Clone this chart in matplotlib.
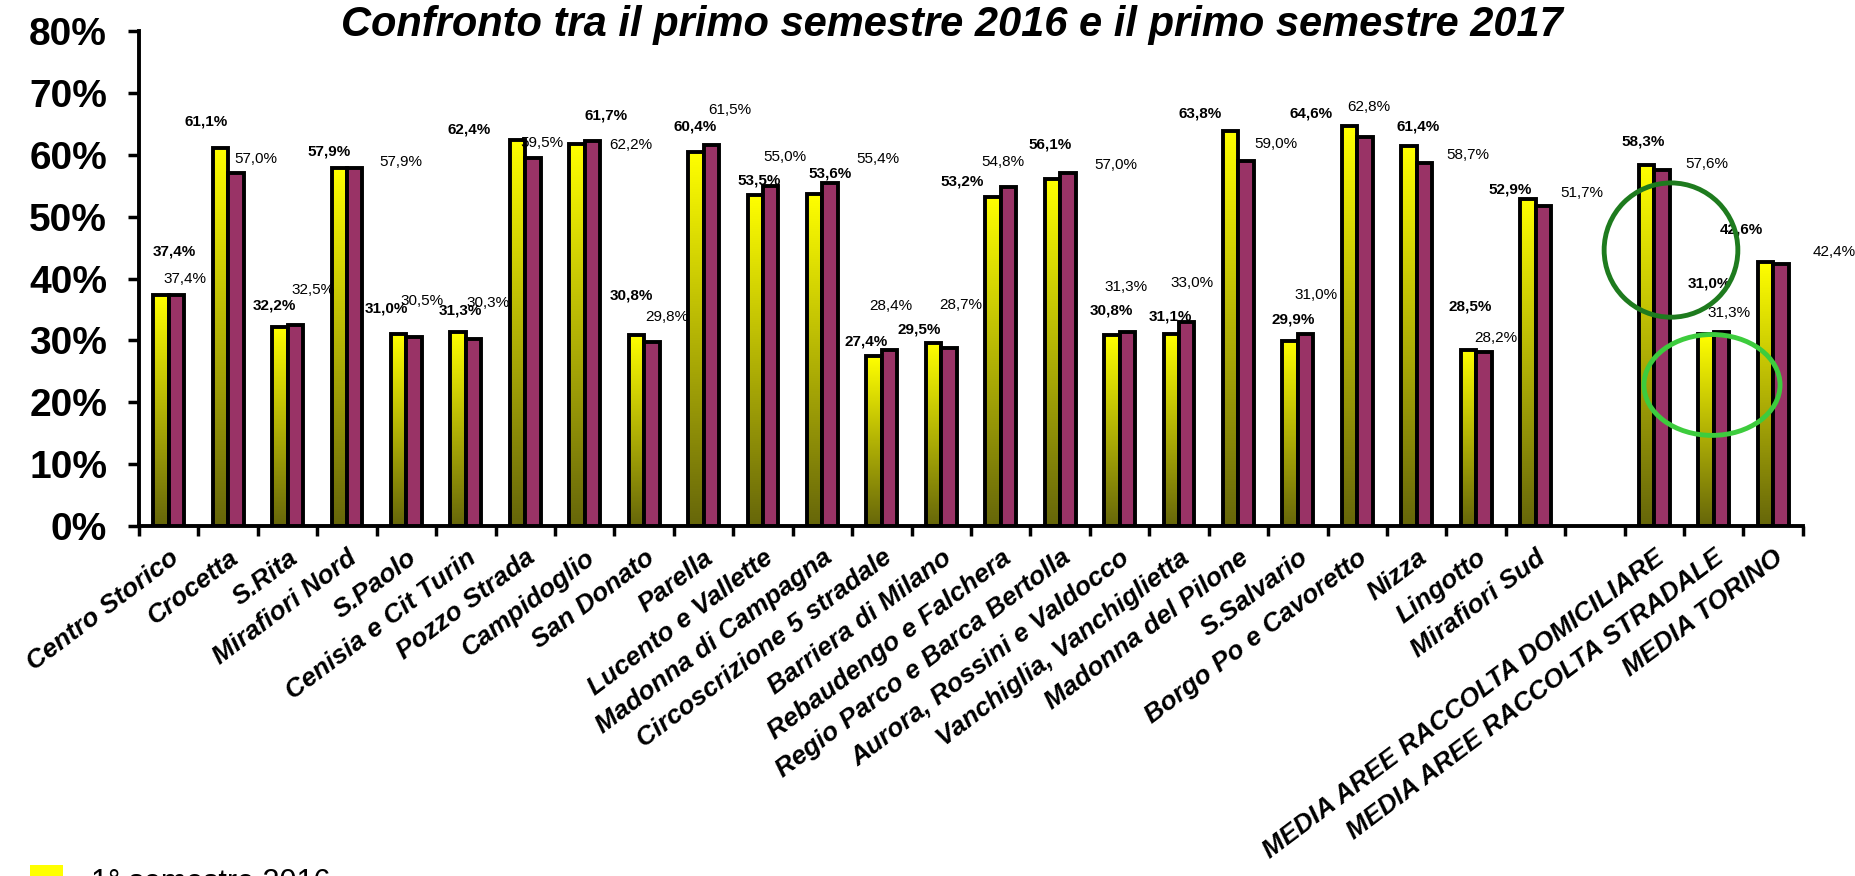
import numpy as np
import matplotlib
matplotlib.use('Agg')
import matplotlib.pyplot as plt
from matplotlib import font_manager as fm
from matplotlib.colors import LinearSegmentedColormap
from matplotlib.patches import Ellipse, Patch

# Data (percent)
categories = ["Centro Storico", "Crocetta", "S.Rita", "Mirafiori Nord", "S.Paolo",
              "Cenisia e Cit Turin", "Pozzo Strada", "Campidoglio", "San Donato", "Parella",
              "Lucento e Vallette", "Madonna di Campagna", "Circoscrizione 5 stradale",
              "Barriera di Milano", "Rebaudengo e Falchera", "Regio Parco e Barca Bertolla",
              "Aurora, Rossini e Valdocco", "Vanchiglia, Vanchiglietta", "Madonna del Pilone",
              "S.Salvario", "Borgo Po e Cavoretto", "Nizza", "Lingotto", "Mirafiori Sud", "",
              "MEDIA AREE RACCOLTA DOMICILIARE", "MEDIA AREE RACCOLTA STRADALE", "MEDIA TORINO"]
sem_2016 = [37.4, 61.1, 32.2, 57.9, 31.0, 31.3, 62.4, 61.7, 30.8, 60.4, 53.5, 53.6, 27.4, 29.5,
            53.2, 56.1, 30.8, 31.1, 63.8, 29.9, 64.6, 61.4, 28.5, 52.9, np.nan, 58.3, 31.0, 42.6]
sem_2017 = [37.4, 57.0, 32.5, 57.9, 30.5, 30.3, 59.5, 62.2, 29.8, 61.5, 55.0, 55.4, 28.4, 28.7,
            54.8, 57.0, 31.3, 33.0, 59.0, 31.0, 62.8, 58.7, 28.2, 51.7, np.nan, 57.6, 31.3, 42.4]
series_names = ["1° semestre 2016", "1° semestre 2017"]
title = "Confronto tra il primo semestre 2016 e il primo semestre 2017"

# hand placed value labels in the original: offsets from bar top (slot units, % points)
off16_dx = [0.09, -0.37, -0.22, -0.30, -0.33, -0.10, -0.95, 0.36, -0.22, -0.15, -0.07, 0.13, -0.27, -0.37,
            -0.65, -0.17, -0.14, -0.14, -0.65, -0.08, -0.78, 0.02, -0.10, -0.43, 0, -0.18, -0.08, -0.54]
off16_dy = [6.9, 4.2, 3.5, 2.6, 4.1, 3.6, 1.7, 4.6, 6.4, 4.2, 2.4, 3.4, 2.5, 2.2,
            2.4, 5.5, 4.1, 2.7, 2.8, 3.5, 2.1, 3.2, 7.0, 1.5, 0, 3.8, 8.2, 5.4]
off17_dx = [0.28, 0.47, 0.42, 0.90, 0.26, 0.38, 0.28, 0.78, 0.39, 0.45, 0.37, 0.93, 0.15, 0.33,
            0.04, 0.94, 0.11, 0.22, 0.63, 0.31, 0.20, 0.86, 0.33, 0.78, 0, 0.88, 0.25, 1.02]
off17_dy = [2.5, 2.3, 5.6, 0.9, 5.9, 5.8, 2.4, -0.6, 4.0, 5.7, 4.7, 3.9, 7.2, 7.0,
            4.0, 1.3, 7.3, 6.2, 2.7, 6.3, 4.9, 1.3, 2.2, 2.1, 0, 0.9, 3.2, 1.9]


def pick_font(name, fallback):
    try:
        fm.findfont(fm.FontProperties(family=name), fallback_to_default=False)
        return name
    except ValueError:
        return fallback


narrow = pick_font('Liberation Sans Narrow', 'Liberation Sans')
arial = pick_font('Liberation Sans', 'DejaVu Sans')

fig = plt.figure(figsize=(18.56, 8.76), dpi=100)
ax = fig.add_axes([0.0749, 0.3995, 0.8965, 0.5651])

x = np.arange(len(categories))
w = 0.26
bars16 = ax.bar(x - w / 2, sem_2016, w, facecolor='none', edgecolor='black', linewidth=2.8, zorder=3)
bars17 = ax.bar(x + w / 2, sem_2017, w, facecolor='#993366', edgecolor='black', linewidth=2.8, zorder=3)

# yellow -> olive gradient inside the 2016 bars
cmap = LinearSegmentedColormap.from_list('yel', ['#66660a', '#ffff00'])
grad = np.linspace(0, 1, 256).reshape(-1, 1)
for b in bars16:
    h = b.get_height()
    if np.isnan(h):
        continue
    im = ax.imshow(grad, cmap=cmap, origin='lower', aspect='auto', zorder=2.5,
                   extent=[b.get_x(), b.get_x() + b.get_width(), 0, h])
    im.set_clip_path(b)

# value labels
for i in range(len(categories)):
    if np.isnan(sem_2016[i]):
        continue
    t16 = f"{sem_2016[i]:.1f}%".replace('.', ',')
    t17 = f"{sem_2017[i]:.1f}%".replace('.', ',')
    ax.text(i + off16_dx[i], sem_2016[i] + off16_dy[i], t16, ha='center', va='center',
            fontsize=11, fontweight='bold', family=narrow, zorder=5)
    ax.text(i + off17_dx[i], sem_2017[i] + off17_dy[i], t17, ha='center', va='center',
            fontsize=11, family=narrow, zorder=5, clip_on=False)

ax.set_xlim(-0.5, len(categories) - 0.5)
ax.set_ylim(0, 80)
ax.set_yticks(range(0, 81, 10))
ax.set_yticklabels([f"{v}%" for v in range(0, 81, 10)], fontsize=28, fontweight='bold', family=narrow)
ax.tick_params(axis='y', length=8, width=2.5, pad=15)

ax.set_xticks(x)
ax.set_xticklabels(categories, rotation=37, ha='right', va='top', rotation_mode='anchor',
                   fontsize=19, fontweight='bold', fontstyle='italic', family=narrow)
ax.set_xticks(np.arange(-0.5, len(categories)), minor=True)
ax.tick_params(axis='x', which='major', length=0, pad=14)
ax.tick_params(axis='x', which='minor', length=7, width=2.5)

for s in ['top', 'right']:
    ax.spines[s].set_visible(False)
for s in ['left', 'bottom']:
    ax.spines[s].set_linewidth(2.8)

# green circles drawn over the averages
ax.add_patch(Ellipse((25.28, 44.6), 2.25, 21.7, fill=False, edgecolor='#1e7b1e', lw=3.5, zorder=6, clip_on=False))
ax.add_patch(Ellipse((25.97, 22.8), 2.29, 16.3, fill=False, edgecolor='#3dcc3d', lw=3.5, zorder=6, clip_on=False))

fig.text(0.513, 0.972, title, ha='center', va='center', fontsize=30,
         fontweight='bold', fontstyle='italic', family=arial)

handles = [Patch(facecolor='#ffff00'), Patch(facecolor='#993366')]
fig.legend(handles, series_names, loc='upper left', bbox_to_anchor=(0.016, 0.012), frameon=False,
           prop={'family': arial, 'size': 22}, handlelength=1.1, handleheight=1.1,
           borderpad=0, borderaxespad=0, handletextpad=0.9)

fig.savefig('out.png', dpi=100)
